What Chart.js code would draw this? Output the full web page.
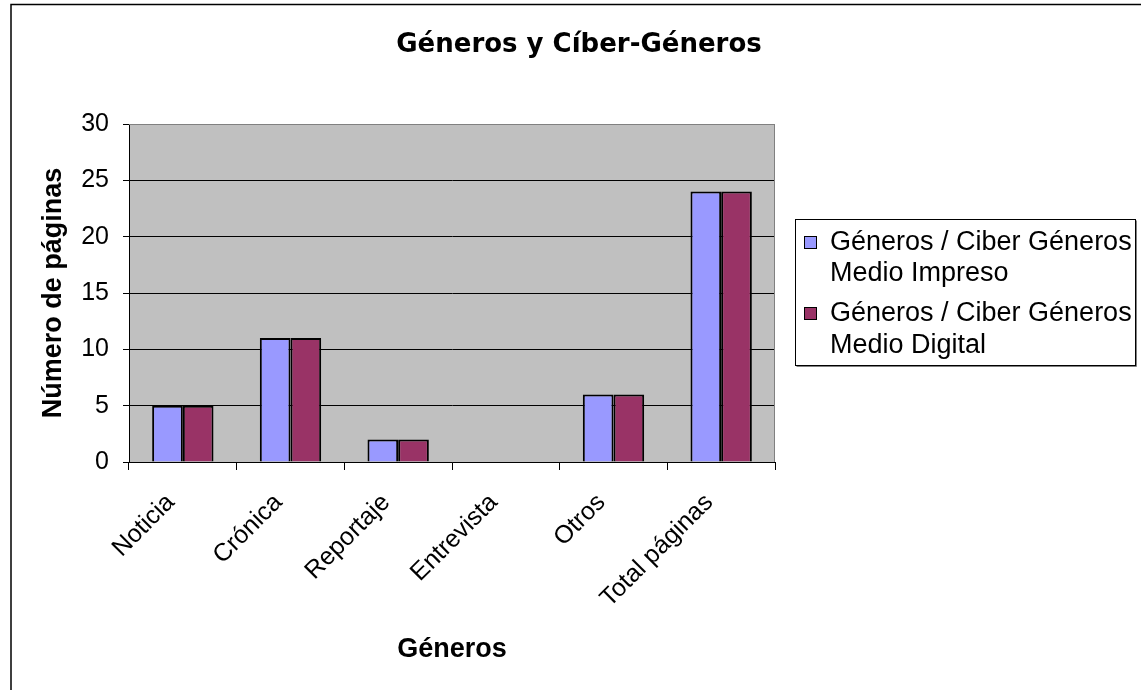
<!DOCTYPE html>
<html>
<head>
<meta charset="utf-8">
<script src="https://cdn.jsdelivr.net/npm/chart.js@4/dist/chart.umd.min.js"></script>
<style>
  html, body { margin: 0; padding: 0; background: #fff; }
  #wrap { width: 1141px; height: 690px; position: relative; }
</style>
</head>
<body>
<div id="wrap"><canvas id="generosChart" width="1141" height="690"></canvas></div>
<script>
// Chart data
const categorias = ['Noticia', 'Crónica', 'Reportaje', 'Entrevista', 'Otros', 'Total páginas'];
const medioImpreso = [5, 11, 2, 0, 6, 24];
const medioDigital = [5, 11, 2, 0, 6, 24];
const serieNombres = [
    ['Géneros / Ciber Géneros', 'Medio Impreso'],
    ['Géneros / Ciber Géneros', 'Medio Digital']
];
const serieColores = ['#9999FF', '#993366'];
const yTicks = [0, 5, 10, 15, 20, 25, 30];

const FONT = '"Liberation Sans", Arial, sans-serif';

// Gray plot background, outer frame, title and legend box
const marcoPlugin = {
    id: 'marco',
    beforeDraw(chart) {
        const { ctx, chartArea: a } = chart;
        ctx.save();
        ctx.fillStyle = '#C0C0C0';
        ctx.fillRect(a.left, a.top, a.right - a.left, a.bottom - a.top);

        // outer frame (left and top only)
        ctx.strokeStyle = '#000';
        ctx.lineWidth = 1.5;
        ctx.beginPath();
        ctx.moveTo(11, 690);
        ctx.lineTo(11, 4.5);
        ctx.lineTo(1141, 4.5);
        ctx.stroke();

        // title
        ctx.fillStyle = '#000';
        ctx.font = 'bold 26px "DejaVu Sans", sans-serif';
        ctx.textAlign = 'center';
        ctx.textBaseline = 'middle';
        ctx.fillText('Géneros y Cíber-Géneros', 579, 45);
        ctx.restore();
    },
    afterDraw(chart) {
        const { ctx, chartArea: a } = chart;
        ctx.save();
        // plot border top/right
        ctx.strokeStyle = '#808080';
        ctx.lineWidth = 1;
        ctx.beginPath();
        ctx.moveTo(a.left, a.top + 0.5);
        ctx.lineTo(a.right - 0.5, a.top + 0.5);
        ctx.lineTo(a.right - 0.5, a.bottom);
        ctx.stroke();

        // legend
        const bx = 795.5, by = 219.5, bw = 340, bh = 146;
        ctx.fillStyle = '#808080';
        ctx.fillRect(bx + 1, by + bh, bw, 1.5);
        ctx.fillRect(bx + bw, by + 1, 1.5, bh);
        ctx.fillStyle = '#fff';
        ctx.fillRect(bx, by, bw, bh);
        ctx.strokeStyle = '#000';
        ctx.strokeRect(bx, by, bw, bh);

        ctx.font = '27px ' + FONT;
        ctx.textAlign = 'left';
        ctx.textBaseline = 'middle';
        const filas = [[243, 274], [314, 346]];
        chart.data.datasets.forEach((ds, i) => {
            const y0 = filas[i][0];
            ctx.fillStyle = ds.backgroundColor;
            ctx.fillRect(804.5, y0 - 6.5, 12, 12);
            ctx.strokeStyle = '#000';
            ctx.lineWidth = 1;
            ctx.strokeRect(804.5, y0 - 6.5, 12, 12);
            ctx.fillStyle = '#000';
            serieNombres[i].forEach((linea, j) => {
                ctx.fillText(linea, 830, filas[i][j]);
            });
        });
        ctx.restore();
    }
};

new Chart(document.getElementById('generosChart'), {
    type: 'bar',
    data: {
        labels: categorias,
        datasets: [
            {
                label: serieNombres[0].join(' '),
                data: medioImpreso,
                backgroundColor: serieColores[0],
                borderColor: '#000',
                borderWidth: 2
            },
            {
                label: serieNombres[1].join(' '),
                data: medioDigital,
                backgroundColor: serieColores[1],
                borderColor: '#000',
                borderWidth: 2
            }
        ]
    },
    options: {
        responsive: false,
        animation: false,
        devicePixelRatio: 1,
        categoryPercentage: 0.57,
        barPercentage: 1,
        layout: {
            padding: { left: 20, right: 366, top: 124, bottom: 0 }
        },
        plugins: {
            legend: { display: false },
            title: { display: false },
            tooltip: { enabled: false }
        },
        scales: {
            x: {
                afterFit(scale) { scale.height = 228; },
                grid: {
                    drawOnChartArea: false,
                    offset: true,
                    color: '#000',
                    tickLength: 8
                },
                border: { color: '#000', width: 1 },
                ticks: {
                    color: '#000',
                    font: { family: FONT, size: 25 },
                    minRotation: 45,
                    maxRotation: 45,
                    padding: 18,
                    labelOffset: -12
                },
                title: {
                    display: true,
                    text: 'Géneros',
                    color: '#000',
                    font: { family: FONT, size: 27, weight: 'bold' },
                    padding: { top: 0, bottom: 24 }
                }
            },
            y: {
                min: 0,
                max: 30,
                afterFit(scale) { scale.width = 109; },
                afterBuildTicks(scale) {
                    scale.ticks = yTicks.map(v => ({ value: v }));
                },
                grid: {
                    color: ctx => (ctx.tick && ctx.tick.value === 30 ? '#808080' : '#000'),
                    tickColor: '#000',
                    tickLength: 6,
                    lineWidth: 1
                },
                border: { color: '#000', width: 1 },
                ticks: {
                    color: '#000',
                    font: { family: FONT, size: 25 },
                    padding: 14
                },
                title: {
                    display: true,
                    text: 'Número de páginas',
                    color: '#000',
                    font: { family: FONT, size: 27, weight: 'bold' },
                    padding: { top: 17, bottom: 0 }
                }
            }
        }
    },
    plugins: [marcoPlugin]
});
</script>
</body>
</html>
